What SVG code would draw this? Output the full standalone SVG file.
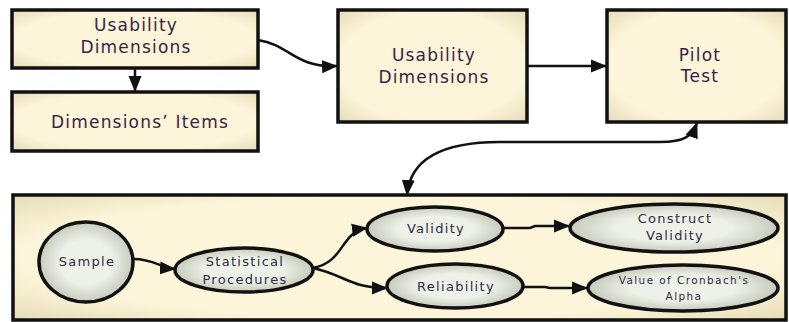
<svg xmlns="http://www.w3.org/2000/svg" width="789" height="322" viewBox="0 0 789 322">
<defs>
<style>
.box{fill:url(#boxg);stroke:#111;stroke-width:3.5}
.ell{fill:url(#ellg);stroke:#111;stroke-width:3.5}
.t1{font-family:"DejaVu Sans",Verdana,sans-serif;font-size:17px;letter-spacing:1.2px;fill:#3a1f45;text-anchor:middle}
.t2{font-family:"DejaVu Sans",Verdana,sans-serif;font-size:13px;letter-spacing:1.3px;fill:#2f2c45;text-anchor:middle}
.t3{font-family:"DejaVu Sans",Verdana,sans-serif;font-size:10.5px;letter-spacing:1.4px;fill:#2f2c45;text-anchor:middle}
.c{fill:none;stroke:#111;stroke-width:2.5}
</style>
<radialGradient id="boxg" cx="50%" cy="50%" r="70%">
<stop offset="0.7" stop-color="#fdf5d9"/>
<stop offset="1" stop-color="#e6dcb8"/>
</radialGradient>
<radialGradient id="ellg" cx="50%" cy="50%" r="55%">
<stop offset="0.5" stop-color="#eef1e7"/>
<stop offset="1" stop-color="#bfc3b4"/>
</radialGradient>
<marker id="ah" markerUnits="userSpaceOnUse" markerWidth="16" markerHeight="16" viewBox="0 0 16 16" refX="15" refY="8" orient="auto">
<path d="M0,1.5 L16,8 L0,14.5 Z" fill="#111"/>
</marker>
<marker id="as" markerUnits="userSpaceOnUse" markerWidth="16" markerHeight="16" viewBox="0 0 16 16" refX="1" refY="8" orient="auto">
<path d="M16,1.5 L0,8 L16,14.5 Z" fill="#111"/>
</marker>
</defs>

<g id="bottom-panel">
<rect class="box" x="13" y="195" width="773" height="125"/>
</g>

<g id="connectors">
<path class="c" d="M135,68 L135,91" marker-end="url(#ah)"/>
<path class="c" d="M258,40 C290,45 295,68 337,66" marker-end="url(#ah)"/>
<path class="c" d="M527,66 L606,66" marker-end="url(#ah)"/>
<path class="c" d="M407,195 C410,160 440,142 500,142 L660,142 C685,142 692,136 697,123" marker-start="url(#as)" marker-end="url(#ah)"/>
<path class="c" d="M133,259 C155,259 160,268 175,269" marker-end="url(#ah)"/>
<path class="c" d="M313,268 C345,262 340,232 367,228" marker-end="url(#ah)"/>
<path class="c" d="M313,268 C345,275 350,288 387,288" marker-end="url(#ah)"/>
<path class="c" d="M503,228 L530,228 L535,226 L569,226" marker-end="url(#ah)"/>
<path class="c" d="M522,287 L545,287 L550,288 L587,288" marker-end="url(#ah)"/>
</g>

<g id="usability-dimensions-1">
<rect class="box" x="12" y="10" width="246" height="58"/>
<text class="t1" x="136" y="31">Usability</text>
<text class="t1" x="136" y="53">Dimensions</text>
</g>

<g id="dimensions-items">
<rect class="box" x="12" y="92" width="246" height="59"/>
<text class="t1" x="140" y="128">Dimensions’ Items</text>
</g>

<g id="usability-dimensions-2">
<rect class="box" x="338" y="10" width="189" height="112"/>
<text class="t1" x="434" y="61">Usability</text>
<text class="t1" x="434" y="83">Dimensions</text>
</g>

<g id="pilot-test">
<rect class="box" x="607" y="10" width="179" height="112"/>
<text class="t1" x="700" y="61">Pilot</text>
<text class="t1" x="700" y="82">Test</text>
</g>

<g id="sample">
<ellipse class="ell" cx="86" cy="262" rx="47" ry="40"/>
<text class="t2" x="87" y="266">Sample</text>
</g>

<g id="statistical-procedures">
<ellipse class="ell" cx="244" cy="270" rx="69" ry="22"/>
<text class="t2" x="245" y="266">Statistical</text>
<text class="t2" x="245" y="284">Procedures</text>
</g>

<g id="validity">
<ellipse class="ell" cx="435" cy="229" rx="68" ry="22"/>
<text class="t2" x="436" y="233">Validity</text>
</g>

<g id="reliability">
<ellipse class="ell" cx="455" cy="286" rx="68" ry="22"/>
<text class="t2" x="456" y="291">Reliability</text>
</g>

<g id="construct-validity">
<ellipse class="ell" cx="674" cy="228" rx="104" ry="24"/>
<text class="t2" x="675" y="223">Construct</text>
<text class="t2" x="675" y="240">Validity</text>
</g>

<g id="cronbach-alpha">
<ellipse class="ell" cx="683" cy="288" rx="95" ry="23"/>
<text class="t3" x="684" y="284">Value of Cronbach's</text>
<text class="t3" x="684" y="300">Alpha</text>
</g>
</svg>
